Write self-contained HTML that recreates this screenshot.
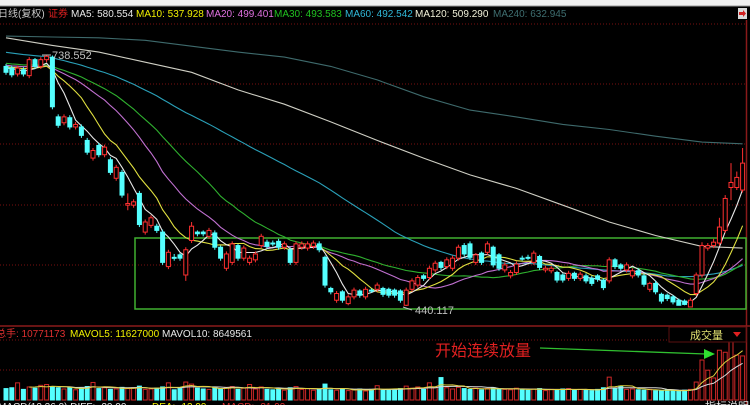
<!DOCTYPE html>
<html><head><meta charset="utf-8"><style>
html,body{margin:0;padding:0;background:#000;width:750px;height:405px;overflow:hidden}
svg{display:block;font-family:"Liberation Sans","Noto Sans CJK SC",sans-serif}
</style></head><body>
<svg id="chart" width="750" height="405" viewBox="0 0 750 405" xmlns="http://www.w3.org/2000/svg">
<rect x="0" y="0" width="750" height="405" fill="#000"/>
<rect x="0" y="0" width="750" height="6" fill="#f0f0f0"/>
<line x1="0" y1="6" x2="750" y2="6" fill="none" stroke="#999"/>
<g stroke="#7a1010" stroke-dasharray="1,2" stroke-width="1">
<line x1="0" y1="24" x2="746" y2="24"/><line x1="0" y1="84" x2="746" y2="84"/><line x1="0" y1="144" x2="746" y2="144"/><line x1="0" y1="205" x2="746" y2="205"/><line x1="0" y1="265" x2="746" y2="265"/>
<line x1="0" y1="340" x2="746" y2="340"/><line x1="0" y1="370" x2="746" y2="370"/>
</g>
<line x1="0" y1="326" x2="750" y2="326" stroke="#8a1a1a" stroke-width="1.5"/>
<line x1="746.5" y1="20" x2="746.5" y2="405" stroke="#8a1a1a" stroke-width="1.5"/>
<text y="17" font-size="10">
<tspan x="-2" fill="#c8c8c8">日线(复权)</tspan><tspan x="48" fill="#e02020">证券</tspan>
<tspan x="71" fill="#e8e8e8">MA5: 580.554</tspan><tspan x="136" fill="#f0f000">MA10: 537.928</tspan>
<tspan x="206" fill="#e070e0">MA20: 499.401</tspan><tspan x="274" fill="#20c020">MA30: 493.583</tspan>
<tspan x="345" fill="#30b8d8">MA60: 492.542</tspan><tspan x="415" fill="#f0f0d8">MA120: 509.290</tspan>
<tspan x="493" fill="#3e6e70">MA240: 632.945</tspan></text>
<g><rect x="738" y="8" width="9" height="11" fill="#d8d8d8"/><path d="M739 12h4v-2l3 3.5-3 3.5v-2h-4z" fill="#d02020"/></g>
<rect x="135" y="238" width="611" height="71" fill="none" stroke="#40b030" stroke-width="1.5"/>
<g id="lines"></g><g id="candles"></g><g id="vol"></g>
<g><line x1="42" y1="55" x2="51" y2="55" stroke="#c0c0c0"/><text x="52" y="59" font-size="11" fill="#c0c0c0">738.552</text></g>
<g><line x1="403" y1="307" x2="412" y2="310" stroke="#c0c0c0"/><text x="415" y="314" font-size="11" fill="#c0c0c0">440.117</text></g>
<text y="337" font-size="10">
<tspan x="-4" fill="#e03030">总手: 10771173</tspan><tspan x="70" fill="#f0f000">MAVOL5: 11627000</tspan><tspan x="162" fill="#e8e8e8">MAVOL10: 8649561</tspan></text>
<g><rect x="669" y="327" width="77" height="15" fill="#000" stroke="#5a1010"/><text x="690" y="339" font-size="11" fill="#e0e070">成交量</text><path d="M733 332h8l-4 5z" fill="#e02020"/></g>
<text x="435" y="356" font-size="16" fill="#e02020">开始连续放量</text>
<g><line x1="540" y1="348" x2="706" y2="354" stroke="#30c030" stroke-width="1.3"/><path d="M704 349l11 5-11 5z" fill="#30e030"/></g>
<text y="410" font-size="10"><tspan x="-2" fill="#e8e8e8">MACD(12,26,9) DIFF: -20.00</tspan><tspan x="152" fill="#f0f000">DEA: -12.99</tspan><tspan x="222" fill="#e03030">MACD: -31.99</tspan></text>
<text x="705" y="410" font-size="11" fill="#e0e0e0">指标说明</text>
</svg>
<script>
const prevCloses=[775,772,770,768,771,766,764,767,762,760,763,758,756,759,754,752,755,750,748,751,747,745,748,744,742,745,740,738,741,736,737,735,738,733,734,731,735,729,733,727,730,732,726,729,724,728,731,725,727,730,723,726,729,724,727,722,725,728,724];
const opens=[725,723,716,721,714,733,725,733,736,665,658,664,653,653,637,616,631,620,614,592,599,560,560,574,528,536,535,528,487,498,501,477,518,528,528,523,527,510,485,492,512,497,492,495,512,516,515,517,510,507,492,510,509,511,514,498,461,447,457,443,451,458,451,459,460,461,460,459,458,441,460,465,476,474,483,492,487,485,497,512,514,492,503,504,510,501,483,476,480,497,498,492,499,483,482,480,477,473,479,473,476,473,476,471,470,495,489,483,476,482,476,460,467,454,453,451,447,446,439,455,477,509,512,515,530,581,581,578];
const closes=[718,715,723,716,733,725,733,737,677,655,665,653,656,643,623,625,620,629,599,605,572,562,564,537,540,545,530,492,504,497,497,507,535,526,526,530,510,497,502,514,497,509,497,502,523,511,514,510,514,492,514,514,514,515,507,465,457,455,447,451,459,453,460,458,465,454,453,453,447,459,470,474,473,485,491,486,495,497,510,502,498,501,492,514,489,485,489,480,490,496,497,503,486,485,485,471,471,479,473,478,470,467,472,462,495,487,485,489,482,477,466,467,457,446,449,445,441,442,447,477,512,512,516,534,568,587,593,610];
const highs=[728,726,726,724,736,735,736,738.55,738,668,668,667,659,656,640,628,634,632,617,608,602,574,567,577,543,548,538,531,507,502,503,510,540,530,530,533,530,512,505,517,514,512,500,505,526,519,518,520,517,510,517,517,517,518,517,500,463,458,459,454,462,460,463,461,468,463,462,461,460,462,473,477,478,488,494,494,498,500,513,515,517,503,505,517,512,503,492,483,493,500,501,506,501,488,488,482,479,482,481,481,479,476,478,473,498,497,491,492,485,485,479,469,470,456,455,453,449,448,450,480,516,515,520,545,572,610,600,628];
const lows=[715,712,713,713,711,722,722,730,674,652,655,650,650,640,620,613,617,617,596,589,569,554,557,534,525,533,527,489,484,494,494,470,515,523,523,520,507,494,482,489,494,494,489,492,509,508,511,507,507,489,489,507,506,508,504,462,454,444,444,441,448,450,448,456,457,451,450,450,444,440.117,457,462,470,471,480,483,484,482,494,499,495,489,489,501,486,482,480,473,477,494,495,489,483,480,479,468,468,470,470,470,467,464,469,459,467,484,482,480,473,474,463,457,454,443,446,442,441,441,442,452,474,506,509,512,527,566,578,575];
const volumes=[2.8,3.0,4.2,2.6,3.2,2.9,3.6,3.8,3.3,3.0,2.7,3.1,2.5,2.9,3.3,4.3,2.8,3.0,2.6,2.7,3.1,2.8,3.0,3.4,2.6,2.7,2.9,3.2,4.2,2.5,2.8,4.4,3.9,2.9,2.7,2.6,3.0,2.8,3.1,3.3,2.6,2.9,3.8,2.7,3.2,2.6,2.5,2.9,2.4,3.0,3.3,2.6,2.8,2.4,2.7,3.9,2.5,2.4,2.6,2.3,2.5,2.7,2.2,2.6,3.5,2.4,2.6,2.5,2.8,3.4,2.9,3.2,2.6,4.2,3.1,5.5,3.0,2.7,3.1,2.8,2.6,2.9,2.5,2.8,3.0,2.7,2.6,2.5,2.9,2.6,2.4,2.7,2.8,2.3,2.6,2.5,2.7,2.8,2.4,2.6,2.5,2.3,2.6,3.0,5.6,2.8,3.4,2.6,2.7,2.5,2.4,2.6,2.3,2.2,2.5,2.3,2.1,2.4,2.6,4.4,9.8,7.3,5.4,12.2,11.7,14.7,11.0,10.8];
const ma120Idx=[0,8,16,24,32,40,48,56,64,72,80,88,96,104,112,120,127];
const ma120=[759,750,742,730,718,697,680,659,637,616,596,580,560,540,524,511,509];
const ma240=[761,760,759,756,749,742,736,725,709,689,673,665,656,650,642,635,633];

const NS="http://www.w3.org/2000/svg";
const xS=i=>6+i*5.8;
const yP=p=>55+(738.552-p)/1.1889;
const yV=v=>400-v*4.08;
function mk(tag,attrs,parent){const e=document.createElementNS(NS,tag);for(const k in attrs)e.setAttribute(k,attrs[k]);parent.appendChild(e);return e;}
const gL=document.getElementById('lines'),gC=document.getElementById('candles'),gV=document.getElementById('vol');
const all=prevCloses.concat(closes),off=prevCloses.length;
function ma(n){const r=[];for(let i=0;i<closes.length;i++){let s=0;for(let k=0;k<n;k++)s+=all[off+i-k];r.push(s/n);}return r;}
function drawLine(vals,idx,color,name,yf){const pts=vals.map((v,j)=>xS(idx?idx[j]:j).toFixed(1)+','+yf(v).toFixed(1)).join(' ');
 const pl=mk('polyline',{points:pts,fill:'none',stroke:color,'stroke-width':1.1},gL);
 
 }
drawLine(ma240,ma120Idx,'#3e6a6c','ma240-line',yP);
drawLine(ma120,ma120Idx,'#cfcfc4','ma120-line',yP);
drawLine(ma(60),null,'#2aa0b8','ma60-line',yP);
drawLine(ma(30),null,'#2fb02f','ma30-line',yP);
drawLine(ma(20),null,'#c070d0','ma20-line',yP);
drawLine(ma(10),null,'#e0e040','ma10-line',yP);
drawLine(ma(5),null,'#e8e8e8','ma5-line',yP);
for(let i=0;i<closes.length;i++){
 const up=closes[i]>=opens[i],col=up?'#ff3030':'#54ffff',x=xS(i);
 const g=mk('g',{},gC);
 
 
 mk('line',{x1:x,x2:x,y1:yP(highs[i]),y2:yP(lows[i]),stroke:col,'stroke-width':1},g);
 const t=yP(Math.max(opens[i],closes[i])),b=yP(Math.min(opens[i],closes[i]));
 mk('rect',{x:x-2,y:t,width:4,height:Math.max(1,b-t),fill:up?'#000':col,stroke:col,'stroke-width':1},g);
 const vc=mk('rect',{x:x-2,y:yV(volumes[i]),width:4,height:400-yV(volumes[i]),fill:up?'#000':'#54ffff',stroke:up?'#d02828':'#54ffff','stroke-width':1},gV);
 
 
}
function mav(n){const r=[],idx=[];for(let i=n-1;i<volumes.length;i++){let s=0;for(let k=0;k<n;k++)s+=volumes[i-k];r.push(s/n);idx.push(i);}return [r,idx];}
function drawVL(n,color,name){const [r,idx]=mav(n);const pts=r.map((v,j)=>xS(idx[j]).toFixed(1)+','+yV(v).toFixed(1)).join(' ');
 const pl=mk('polyline',{points:pts,fill:'none',stroke:color,'stroke-width':1},gV);
 
 }
drawVL(10,'#d8d8d8','mavol10-line');
drawVL(5,'#e0d040','mavol5-line');
</script>
</body></html>
